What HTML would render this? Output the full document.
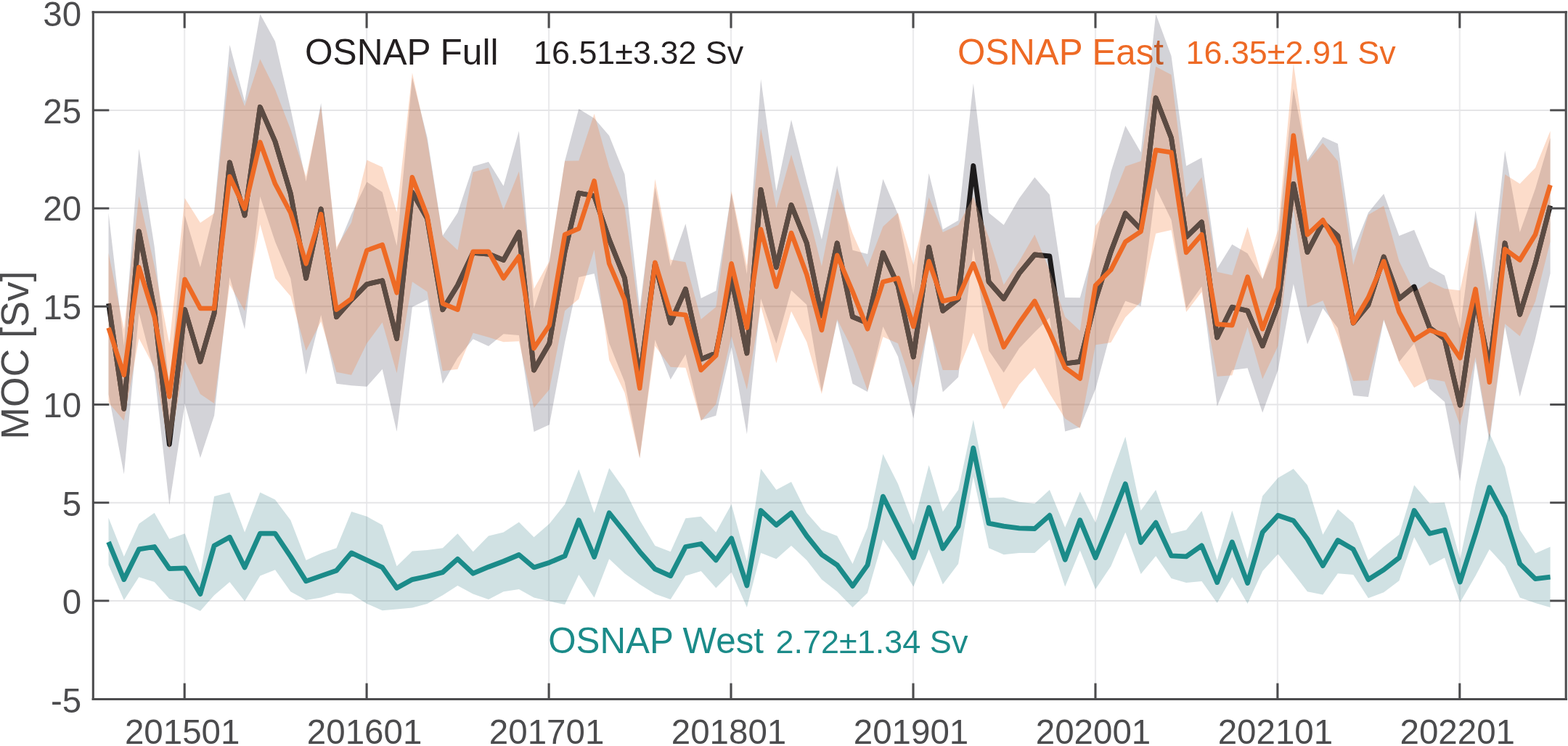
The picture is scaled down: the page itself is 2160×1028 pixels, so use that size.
<!DOCTYPE html>
<html lang="en"><head><meta charset="utf-8"><title>OSNAP MOC time series</title>
<style>html,body{margin:0;padding:0;background:#fff;overflow:hidden}svg{display:block}text{font-family:"Liberation Sans",Arial,Helvetica,sans-serif}</style>
</head><body>
<svg width="2160" height="1028" viewBox="0 0 2160 1028">
<rect x="0" y="0" width="2160" height="1028" fill="#ffffff"/>
<defs><clipPath id="plot"><rect x="128.3" y="16.7" width="2028.8999999999999" height="946.8"/></clipPath><clipPath id="eband"><polygon points="149.5,348.7 170.8,453.7 191.4,270.3 212.7,366.7 233.3,473.7 254.6,273.0 275.9,307.0 295.1,294.0 316.4,91.0 337.1,146.5 358.3,81.5 379.0,123.3 400.3,178.3 421.6,243.3 442.2,147.0 463.5,340.7 484.1,306.7 505.4,220.5 526.7,230.3 546.6,292.3 567.9,100.3 588.5,194.0 609.8,325.3 630.4,344.7 651.7,237.2 673.0,231.2 693.6,289.0 714.9,236.3 735.5,398.0 756.8,359.9 778.1,221.8 797.3,221.5 818.6,156.8 839.2,230.3 860.5,285.3 881.2,438.3 902.4,246.7 923.7,357.7 944.4,361.3 965.7,440.0 986.3,423.0 1007.6,263.3 1028.9,366.7 1048.1,176.7 1069.4,287.0 1090.0,213.0 1111.3,285.3 1131.9,367.0 1153.2,259.5 1174.5,321.7 1195.1,368.3 1216.4,312.3 1237.0,293.3 1258.3,365.0 1279.6,272.0 1298.8,320.0 1320.1,310.0 1340.8,271.3 1362.1,327.0 1382.7,392.6 1404.0,360.0 1425.3,323.3 1445.9,372.5 1467.2,436.7 1487.8,455.7 1509.1,311.3 1530.4,279.7 1550.3,229.3 1571.6,222.0 1592.2,91.7 1613.5,103.0 1634.1,272.0 1655.4,244.3 1676.7,374.7 1697.3,379.3 1718.6,312.7 1739.2,384.3 1760.5,316.7 1781.8,86.7 1801.0,223.3 1822.3,197.0 1842.9,222.0 1864.2,365.0 1884.9,296.0 1906.2,283.5 1927.4,360.0 1948.1,402.3 1969.4,388.0 1990.0,397.7 2011.3,400.3 2032.6,301.3 2051.8,438.7 2073.1,240.3 2093.7,253.3 2115.0,231.3 2135.6,180.5 2135.6,333.0 2115.0,415.3 2093.7,463.3 2073.1,446.3 2051.8,603.0 2032.6,492.0 2011.3,586.3 1990.0,525.7 1969.4,522.0 1948.1,534.3 1927.4,500.0 1906.2,440.0 1884.9,524.0 1864.2,525.0 1842.9,463.3 1822.3,414.3 1801.0,423.3 1781.8,286.7 1760.5,476.7 1739.2,522.3 1718.6,450.7 1697.3,517.3 1676.7,518.7 1655.4,402.3 1634.1,430.0 1613.5,317.0 1592.2,321.7 1571.6,416.0 1550.3,437.3 1530.4,472.0 1509.1,475.3 1487.8,590.2 1467.2,576.7 1445.9,542.5 1425.3,506.7 1404.0,530.0 1382.7,564.0 1362.1,513.0 1340.8,458.8 1320.1,510.0 1298.8,510.0 1279.6,448.0 1258.3,535.0 1237.0,473.3 1216.4,464.3 1195.1,538.3 1174.5,481.7 1153.2,440.1 1131.9,543.0 1111.3,471.3 1090.0,429.0 1069.4,500.5 1048.1,422.0 1028.9,536.7 1007.6,463.3 986.3,557.0 965.7,580.0 944.4,506.7 923.7,505.7 902.4,476.7 881.2,631.7 860.5,541.3 839.2,496.3 818.6,344.3 797.3,412.0 778.1,428.3 756.8,536.7 735.5,562.0 714.9,470.3 693.6,471.3 673.0,464.7 651.7,458.7 630.4,508.7 609.8,511.3 588.5,402.0 567.9,388.3 546.6,514.3 526.7,444.3 505.4,473.0 484.1,516.7 463.5,512.7 442.2,443.0 421.6,483.3 400.3,408.3 379.0,383.3 358.3,309.3 337.1,428.5 316.4,392.3 295.1,556.0 275.9,543.0 254.6,497.0 233.3,619.7 212.7,506.7 191.4,466.3 170.8,579.7 149.5,554.7"/></clipPath></defs>
<g stroke="#ebebed" stroke-width="2.2" fill="none">
<line x1="254.2" y1="16.7" x2="254.2" y2="963.5"/>
<line x1="505.1" y1="16.7" x2="505.1" y2="963.5"/>
<line x1="756.1" y1="16.7" x2="756.1" y2="963.5"/>
<line x1="1007.0" y1="16.7" x2="1007.0" y2="963.5"/>
<line x1="1258.0" y1="16.7" x2="1258.0" y2="963.5"/>
<line x1="1509.0" y1="16.7" x2="1509.0" y2="963.5"/>
<line x1="1759.9" y1="16.7" x2="1759.9" y2="963.5"/>
<line x1="2010.8" y1="16.7" x2="2010.8" y2="963.5"/>
</g>
<g stroke="#e5e5e7" stroke-width="2.0" fill="none">
<line x1="128.3" y1="151.9" x2="2157.2" y2="151.9"/>
<line x1="128.3" y1="287.1" x2="2157.2" y2="287.1"/>
<line x1="128.3" y1="422.3" x2="2157.2" y2="422.3"/>
<line x1="128.3" y1="557.5" x2="2157.2" y2="557.5"/>
<line x1="128.3" y1="692.7" x2="2157.2" y2="692.7"/>
<line x1="128.3" y1="827.9" x2="2157.2" y2="827.9"/>
</g>
<text x="420" y="88.7" font-size="49.6px" fill="#231f20">OSNAP Full</text>
<text x="735" y="88" font-size="44.9px" fill="#231f20">16.51±3.32 Sv</text>
<text x="1319" y="88.7" font-size="49.3px" fill="#ee6a25">OSNAP East</text>
<text x="1633.5" y="88" font-size="44.9px" fill="#ee6a25">16.35±2.91 Sv</text>
<text x="755.2" y="900.3" font-size="49.3px" fill="#1b8b89">OSNAP West</text>
<text x="1068.5" y="899.6" font-size="45px" fill="#1b8b89">2.72±1.34 Sv</text>
<g clip-path="url(#plot)">
<polygon points="149.5,293.3 170.8,476.6 191.4,205.0 212.7,339.7 233.3,533.9 254.6,296.7 275.9,368.3 295.1,290.7 316.4,61.7 337.1,139.7 358.3,19.3 379.0,57.0 400.3,149.7 421.6,250.3 442.2,142.0 463.5,344.7 484.1,295.3 505.4,250.7 526.7,264.7 546.6,338.7 567.9,107.0 588.5,189.0 609.8,324.7 630.4,293.3 651.7,229.3 673.0,223.0 693.6,256.3 714.9,180.5 735.5,425.0 756.8,361.3 778.1,221.7 797.3,150.0 818.6,163.0 839.2,187.0 860.5,240.3 881.2,425.3 902.4,258.3 923.7,367.0 944.4,308.3 965.7,411.0 986.3,400.7 1007.6,266.0 1028.9,377.7 1048.1,109.0 1069.4,263.3 1090.0,165.0 1111.3,250.0 1131.9,330.0 1153.2,228.0 1174.5,344.7 1195.1,350.0 1216.4,246.7 1237.0,295.3 1258.3,406.7 1279.6,238.7 1298.8,316.3 1320.1,303.7 1340.8,115.0 1362.1,293.3 1382.7,310.0 1404.0,273.3 1425.3,244.3 1445.9,268.3 1467.2,410.0 1487.8,410.3 1509.1,335.0 1530.4,236.7 1550.3,173.3 1571.6,210.0 1592.2,19.3 1613.5,77.0 1634.1,228.7 1655.4,217.3 1676.7,370.0 1697.3,336.7 1718.6,349.3 1739.2,384.7 1760.5,330.0 1781.8,122.0 1801.0,220.5 1822.3,188.7 1842.9,198.0 1864.2,345.0 1884.9,293.0 1906.2,267.0 1927.4,325.0 1948.1,316.7 1969.4,367.7 1990.0,379.7 2011.3,453.3 2032.6,290.0 2051.8,401.7 2073.1,207.5 2093.7,319.9 2115.0,259.9 2135.6,189.9 2135.6,376.7 2115.0,466.7 2093.7,546.7 2073.1,450.0 2051.8,609.0 2032.6,498.0 2011.3,663.3 1990.0,553.7 1969.4,535.7 1948.1,473.3 1927.4,498.4 1906.2,441.0 1884.9,547.0 1864.2,545.0 1842.9,452.0 1822.3,424.7 1801.0,474.5 1781.8,391.3 1760.5,510.0 1739.2,568.7 1718.6,507.3 1697.3,509.9 1676.7,560.0 1655.4,394.7 1634.1,424.7 1613.5,303.0 1592.2,259.0 1571.6,422.0 1550.3,414.7 1530.4,456.7 1509.1,536.3 1487.8,588.8 1467.2,594.5 1445.9,437.7 1425.3,457.7 1404.0,480.1 1382.7,513.4 1362.1,483.3 1340.8,341.6 1320.1,519.7 1298.8,540.3 1279.6,442.7 1258.3,576.7 1237.0,491.3 1216.4,449.9 1195.1,540.0 1174.5,528.7 1153.2,442.0 1131.9,540.0 1111.3,420.0 1090.0,400.0 1069.4,473.3 1048.1,411.5 1028.9,598.2 1007.6,478.3 986.3,572.7 965.7,579.0 944.4,488.3 923.7,523.0 902.4,468.3 881.2,631.3 860.5,526.3 839.2,473.0 818.6,377.0 797.3,382.0 778.1,471.7 756.8,585.3 735.5,595.0 714.9,462.0 693.6,460.3 673.0,477.0 651.7,467.3 630.4,493.3 609.8,528.7 588.5,413.0 567.9,423.0 546.6,594.7 526.7,508.7 505.4,532.7 484.1,531.3 463.5,528.7 442.2,434.0 421.6,516.3 400.3,383.7 379.0,333.0 358.3,270.7 337.1,453.7 316.4,381.7 295.1,572.7 275.9,631.0 254.6,556.7 233.3,696.0 212.7,513.7 191.4,431.0 170.8,653.5 149.5,543.3" fill="#23233c" fill-opacity="0.2"/>
<polyline points="149.5,418.3 170.8,563.3 191.4,319.0 212.7,426.7 233.3,612.3 254.6,426.7 275.9,498.3 295.1,431.7 316.4,224.0 337.1,296.7 358.3,147.5 379.0,195.0 400.3,266.7 421.6,383.3 442.2,288.0 463.5,436.7 484.1,413.3 505.4,391.7 526.7,386.7 546.6,466.7 567.9,265.0 588.5,301.0 609.8,426.7 630.4,393.3 651.7,348.3 673.0,350.0 693.6,358.3 714.9,320.0 735.5,510.0 756.8,473.3 778.1,346.7 797.3,266.0 818.6,270.0 839.2,330.0 860.5,383.3 881.2,522.5 902.4,363.3 923.7,445.0 944.4,398.3 965.7,495.0 986.3,486.7 1007.6,383.3 1028.9,486.7 1048.1,261.5 1069.4,368.3 1090.0,282.5 1111.3,335.0 1131.9,435.0 1153.2,335.0 1174.5,436.7 1195.1,445.0 1216.4,348.3 1237.0,393.3 1258.3,491.7 1279.6,340.7 1298.8,428.3 1320.1,411.7 1340.8,228.3 1362.1,388.3 1382.7,411.7 1404.0,376.7 1425.3,351.0 1445.9,353.0 1467.2,501.0 1487.8,498.3 1509.1,413.3 1530.4,346.7 1550.3,294.0 1571.6,316.0 1592.2,135.0 1613.5,190.0 1634.1,326.7 1655.4,306.0 1676.7,465.0 1697.3,423.3 1718.6,428.3 1739.2,476.7 1760.5,420.0 1781.8,253.3 1801.0,347.5 1822.3,306.7 1842.9,325.0 1864.2,445.0 1884.9,420.0 1906.2,354.0 1927.4,411.7 1948.1,395.0 1969.4,451.7 1990.0,466.7 2011.3,558.3 2032.6,411.7 2051.8,506.7 2073.1,335.0 2093.7,433.3 2115.0,363.3 2135.6,283.3" fill="none" stroke="#1d1b1c" stroke-width="6.8" stroke-linejoin="round" stroke-linecap="butt"/>
<polygon points="149.5,348.7 170.8,453.7 191.4,270.3 212.7,366.7 233.3,473.7 254.6,273.0 275.9,307.0 295.1,294.0 316.4,91.0 337.1,146.5 358.3,81.5 379.0,123.3 400.3,178.3 421.6,243.3 442.2,147.0 463.5,340.7 484.1,306.7 505.4,220.5 526.7,230.3 546.6,292.3 567.9,100.3 588.5,194.0 609.8,325.3 630.4,344.7 651.7,237.2 673.0,231.2 693.6,289.0 714.9,236.3 735.5,398.0 756.8,359.9 778.1,221.8 797.3,221.5 818.6,156.8 839.2,230.3 860.5,285.3 881.2,438.3 902.4,246.7 923.7,357.7 944.4,361.3 965.7,440.0 986.3,423.0 1007.6,263.3 1028.9,366.7 1048.1,176.7 1069.4,287.0 1090.0,213.0 1111.3,285.3 1131.9,367.0 1153.2,259.5 1174.5,321.7 1195.1,368.3 1216.4,312.3 1237.0,293.3 1258.3,365.0 1279.6,272.0 1298.8,320.0 1320.1,310.0 1340.8,271.3 1362.1,327.0 1382.7,392.6 1404.0,360.0 1425.3,323.3 1445.9,372.5 1467.2,436.7 1487.8,455.7 1509.1,311.3 1530.4,279.7 1550.3,229.3 1571.6,222.0 1592.2,91.7 1613.5,103.0 1634.1,272.0 1655.4,244.3 1676.7,374.7 1697.3,379.3 1718.6,312.7 1739.2,384.3 1760.5,316.7 1781.8,86.7 1801.0,223.3 1822.3,197.0 1842.9,222.0 1864.2,365.0 1884.9,296.0 1906.2,283.5 1927.4,360.0 1948.1,402.3 1969.4,388.0 1990.0,397.7 2011.3,400.3 2032.6,301.3 2051.8,438.7 2073.1,240.3 2093.7,253.3 2115.0,231.3 2135.6,180.5 2135.6,333.0 2115.0,415.3 2093.7,463.3 2073.1,446.3 2051.8,603.0 2032.6,492.0 2011.3,586.3 1990.0,525.7 1969.4,522.0 1948.1,534.3 1927.4,500.0 1906.2,440.0 1884.9,524.0 1864.2,525.0 1842.9,463.3 1822.3,414.3 1801.0,423.3 1781.8,286.7 1760.5,476.7 1739.2,522.3 1718.6,450.7 1697.3,517.3 1676.7,518.7 1655.4,402.3 1634.1,430.0 1613.5,317.0 1592.2,321.7 1571.6,416.0 1550.3,437.3 1530.4,472.0 1509.1,475.3 1487.8,590.2 1467.2,576.7 1445.9,542.5 1425.3,506.7 1404.0,530.0 1382.7,564.0 1362.1,513.0 1340.8,458.8 1320.1,510.0 1298.8,510.0 1279.6,448.0 1258.3,535.0 1237.0,473.3 1216.4,464.3 1195.1,538.3 1174.5,481.7 1153.2,440.1 1131.9,543.0 1111.3,471.3 1090.0,429.0 1069.4,500.5 1048.1,422.0 1028.9,536.7 1007.6,463.3 986.3,557.0 965.7,580.0 944.4,506.7 923.7,505.7 902.4,476.7 881.2,631.7 860.5,541.3 839.2,496.3 818.6,344.3 797.3,412.0 778.1,428.3 756.8,536.7 735.5,562.0 714.9,470.3 693.6,471.3 673.0,464.7 651.7,458.7 630.4,508.7 609.8,511.3 588.5,402.0 567.9,388.3 546.6,514.3 526.7,444.3 505.4,473.0 484.1,516.7 463.5,512.7 442.2,443.0 421.6,483.3 400.3,408.3 379.0,383.3 358.3,309.3 337.1,428.5 316.4,392.3 295.1,556.0 275.9,543.0 254.6,497.0 233.3,619.7 212.7,506.7 191.4,466.3 170.8,579.7 149.5,554.7" fill="#f38241" fill-opacity="0.28"/>
<g clip-path="url(#eband)"><polyline points="149.5,418.3 170.8,563.3 191.4,319.0 212.7,426.7 233.3,612.3 254.6,426.7 275.9,498.3 295.1,431.7 316.4,224.0 337.1,296.7 358.3,147.5 379.0,195.0 400.3,266.7 421.6,383.3 442.2,288.0 463.5,436.7 484.1,413.3 505.4,391.7 526.7,386.7 546.6,466.7 567.9,265.0 588.5,301.0 609.8,426.7 630.4,393.3 651.7,348.3 673.0,350.0 693.6,358.3 714.9,320.0 735.5,510.0 756.8,473.3 778.1,346.7 797.3,266.0 818.6,270.0 839.2,330.0 860.5,383.3 881.2,522.5 902.4,363.3 923.7,445.0 944.4,398.3 965.7,495.0 986.3,486.7 1007.6,383.3 1028.9,486.7 1048.1,261.5 1069.4,368.3 1090.0,282.5 1111.3,335.0 1131.9,435.0 1153.2,335.0 1174.5,436.7 1195.1,445.0 1216.4,348.3 1237.0,393.3 1258.3,491.7 1279.6,340.7 1298.8,428.3 1320.1,411.7 1340.8,228.3 1362.1,388.3 1382.7,411.7 1404.0,376.7 1425.3,351.0 1445.9,353.0 1467.2,501.0 1487.8,498.3 1509.1,413.3 1530.4,346.7 1550.3,294.0 1571.6,316.0 1592.2,135.0 1613.5,190.0 1634.1,326.7 1655.4,306.0 1676.7,465.0 1697.3,423.3 1718.6,428.3 1739.2,476.7 1760.5,420.0 1781.8,253.3 1801.0,347.5 1822.3,306.7 1842.9,325.0 1864.2,445.0 1884.9,420.0 1906.2,354.0 1927.4,411.7 1948.1,395.0 1969.4,451.7 1990.0,466.7 2011.3,558.3 2032.6,411.7 2051.8,506.7 2073.1,335.0 2093.7,433.3 2115.0,363.3 2135.6,283.3" fill="none" stroke="#5b4b43" stroke-width="6.8" stroke-linejoin="round" stroke-linecap="butt"/></g>
<polyline points="149.5,451.7 170.8,516.7 191.4,368.3 212.7,436.7 233.3,546.7 254.6,385.0 275.9,425.0 295.1,425.0 316.4,243.3 337.1,287.5 358.3,195.8 379.0,253.3 400.3,293.3 421.6,363.3 442.2,295.0 463.5,426.7 484.1,411.7 505.4,345.0 526.7,337.3 546.6,403.3 567.9,244.3 588.5,298.0 609.8,418.3 630.4,426.7 651.7,346.7 673.0,346.7 693.6,383.3 714.9,353.3 735.5,480.0 756.8,448.3 778.1,323.3 797.3,315.0 818.6,249.3 839.2,363.3 860.5,413.3 881.2,535.0 902.4,361.7 923.7,431.7 944.4,434.0 965.7,510.0 986.3,490.0 1007.6,363.3 1028.9,451.7 1048.1,316.0 1069.4,395.0 1090.0,321.0 1111.3,378.3 1131.9,455.0 1153.2,351.7 1174.5,401.7 1195.1,453.3 1216.4,388.3 1237.0,383.3 1258.3,450.0 1279.6,360.0 1298.8,415.0 1320.1,410.0 1340.8,363.3 1362.1,420.0 1382.7,478.3 1404.0,445.0 1425.3,415.0 1445.9,457.5 1467.2,506.7 1487.8,521.7 1509.1,393.3 1530.4,371.7 1550.3,333.3 1571.6,319.0 1592.2,206.7 1613.5,210.0 1634.1,348.0 1655.4,323.3 1676.7,446.7 1697.3,448.3 1718.6,381.7 1739.2,453.3 1760.5,396.7 1781.8,186.7 1801.0,323.3 1822.3,303.3 1842.9,338.3 1864.2,445.0 1884.9,410.0 1906.2,360.0 1927.4,430.0 1948.1,468.3 1969.4,455.0 1990.0,461.7 2011.3,493.3 2032.6,398.3 2051.8,526.7 2073.1,343.3 2093.7,358.3 2115.0,323.3 2135.6,255.0" fill="none" stroke="#ee6a25" stroke-width="6.5" stroke-linejoin="round" stroke-linecap="butt"/>
<polygon points="149.5,713.5 170.8,766.9 191.4,721.8 212.7,706.8 233.3,742.8 254.6,735.2 275.9,790.2 295.1,684.1 316.4,678.5 337.1,733.5 358.3,678.5 379.0,688.5 400.3,716.8 421.6,771.9 442.2,762.5 463.5,755.2 484.1,705.1 505.4,711.8 526.7,723.5 546.6,780.2 567.9,759.5 588.5,757.9 609.8,755.2 630.4,735.2 651.7,760.2 673.0,738.5 693.6,733.5 714.9,719.5 735.5,740.2 756.8,721.8 778.1,695.1 797.3,646.8 818.6,706.8 839.2,645.1 860.5,675.1 881.2,716.8 902.4,751.9 923.7,760.2 944.4,714.2 965.7,711.8 986.3,733.5 1007.6,695.1 1028.9,773.5 1048.1,646.1 1069.4,675.1 1090.0,664.1 1111.3,706.8 1131.9,730.2 1153.2,738.5 1174.5,776.9 1195.1,726.8 1216.4,625.7 1237.0,666.8 1258.3,723.5 1279.6,641.1 1298.8,705.1 1320.1,675.1 1340.8,578.4 1362.1,686.1 1382.7,685.5 1404.0,691.8 1425.3,694.1 1445.9,675.1 1467.2,726.8 1487.8,677.5 1509.1,720.2 1530.4,656.8 1550.3,601.7 1571.6,703.5 1592.2,675.1 1613.5,735.2 1634.1,730.2 1655.4,704.1 1676.7,771.9 1697.3,703.5 1718.6,770.2 1739.2,683.5 1760.5,658.4 1781.8,646.1 1801.0,668.4 1822.3,736.8 1842.9,701.8 1864.2,720.2 1884.9,771.9 1906.2,753.5 1927.4,736.8 1948.1,668.4 1969.4,693.5 1990.0,692.5 2011.3,770.2 2032.6,670.1 2051.8,596.7 2073.1,643.4 2093.7,730.2 2115.0,762.5 2135.6,753.5 2135.6,836.9 2115.0,830.9 2093.7,823.6 2073.1,780.2 2051.8,756.9 2032.6,793.6 2011.3,830.3 1990.0,768.5 1969.4,779.6 1948.1,740.2 1927.4,800.2 1906.2,816.3 1884.9,824.3 1864.2,791.9 1842.9,790.2 1822.3,819.6 1801.0,815.3 1781.8,790.2 1760.5,763.5 1739.2,786.9 1718.6,831.9 1697.3,795.2 1676.7,830.9 1655.4,800.9 1634.1,802.9 1613.5,796.9 1592.2,766.2 1571.6,790.9 1550.3,733.5 1530.4,780.2 1509.1,811.9 1487.8,758.5 1467.2,808.6 1445.9,743.5 1425.3,761.9 1404.0,761.9 1382.7,764.2 1362.1,755.2 1340.8,656.8 1320.1,776.9 1298.8,805.2 1279.6,756.9 1258.3,808.6 1237.0,773.5 1216.4,743.5 1195.1,816.9 1174.5,836.9 1153.2,815.3 1131.9,798.6 1111.3,771.9 1090.0,751.9 1069.4,770.2 1048.1,761.9 1028.9,836.9 1007.6,788.6 986.3,810.3 965.7,786.9 944.4,793.6 923.7,825.9 902.4,818.6 881.2,805.2 860.5,790.2 839.2,770.2 818.6,823.6 797.3,791.9 778.1,832.9 756.8,828.6 735.5,823.6 714.9,811.9 693.6,815.3 673.0,825.9 651.7,818.6 630.4,806.9 609.8,820.3 588.5,831.9 567.9,837.6 546.6,839.6 526.7,841.3 505.4,831.9 484.1,818.6 463.5,816.9 442.2,823.6 421.6,826.9 400.3,815.3 379.0,785.2 358.3,793.6 337.1,828.6 316.4,801.9 295.1,820.3 275.9,841.9 254.6,831.9 233.3,825.3 212.7,801.9 191.4,795.2 170.8,826.9 149.5,778.6" fill="#146973" fill-opacity="0.2"/>
<polyline points="149.5,746.9 170.8,798.6 191.4,756.9 212.7,753.5 233.3,783.6 254.6,782.9 275.9,818.6 295.1,751.9 316.4,740.2 337.1,781.9 358.3,735.2 379.0,735.2 400.3,766.9 421.6,800.9 442.2,793.6 463.5,786.2 484.1,761.9 505.4,771.9 526.7,781.9 546.6,810.3 567.9,798.6 588.5,794.2 609.8,788.6 630.4,770.2 651.7,790.2 673.0,781.2 693.6,773.5 714.9,764.5 735.5,781.9 756.8,775.2 778.1,766.2 797.3,716.8 818.6,767.5 839.2,706.8 860.5,733.5 881.2,760.2 902.4,784.2 923.7,793.6 944.4,753.5 965.7,749.5 986.3,771.9 1007.6,741.8 1028.9,806.9 1048.1,703.5 1069.4,723.5 1090.0,706.8 1111.3,738.5 1131.9,764.2 1153.2,778.6 1174.5,807.6 1195.1,778.6 1216.4,684.1 1237.0,725.2 1258.3,768.5 1279.6,699.5 1298.8,755.9 1320.1,725.2 1340.8,617.4 1362.1,721.2 1382.7,725.2 1404.0,727.8 1425.3,728.5 1445.9,710.2 1467.2,771.2 1487.8,716.8 1509.1,768.5 1530.4,716.8 1550.3,666.8 1571.6,747.5 1592.2,720.2 1613.5,765.9 1634.1,766.9 1655.4,751.9 1676.7,802.6 1697.3,746.9 1718.6,803.6 1739.2,733.5 1760.5,710.2 1781.8,717.5 1801.0,742.8 1822.3,779.6 1842.9,744.5 1864.2,756.9 1884.9,798.6 1906.2,785.2 1927.4,768.5 1948.1,703.5 1969.4,735.2 1990.0,730.2 2011.3,801.9 2032.6,735.2 2051.8,671.8 2073.1,711.8 2093.7,776.9 2115.0,797.6 2135.6,795.2" fill="none" stroke="#1b8b89" stroke-width="6.8" stroke-linejoin="round" stroke-linecap="butt"/>
</g>
<g stroke="#4c4c4e" stroke-width="3.1" fill="none" stroke-linecap="butt">
<line x1="128.3" y1="15.25" x2="128.3" y2="964.95"/>
<line x1="2157.2" y1="15.25" x2="2157.2" y2="964.95"/>
<line x1="254.2" y1="963.5" x2="254.2" y2="941.5"/>
<line x1="254.2" y1="16.7" x2="254.2" y2="38.7"/>
<line x1="505.1" y1="963.5" x2="505.1" y2="941.5"/>
<line x1="505.1" y1="16.7" x2="505.1" y2="38.7"/>
<line x1="756.1" y1="963.5" x2="756.1" y2="941.5"/>
<line x1="756.1" y1="16.7" x2="756.1" y2="38.7"/>
<line x1="1007.0" y1="963.5" x2="1007.0" y2="941.5"/>
<line x1="1007.0" y1="16.7" x2="1007.0" y2="38.7"/>
<line x1="1258.0" y1="963.5" x2="1258.0" y2="941.5"/>
<line x1="1258.0" y1="16.7" x2="1258.0" y2="38.7"/>
<line x1="1509.0" y1="963.5" x2="1509.0" y2="941.5"/>
<line x1="1509.0" y1="16.7" x2="1509.0" y2="38.7"/>
<line x1="1759.9" y1="963.5" x2="1759.9" y2="941.5"/>
<line x1="1759.9" y1="16.7" x2="1759.9" y2="38.7"/>
<line x1="2010.8" y1="963.5" x2="2010.8" y2="941.5"/>
<line x1="2010.8" y1="16.7" x2="2010.8" y2="38.7"/>
</g>
<g stroke="#4c4c4e" stroke-width="2.9" fill="none" stroke-linecap="butt">
<line x1="126.65" y1="16.7" x2="2158.85" y2="16.7"/>
<line x1="126.65" y1="963.5" x2="2158.85" y2="963.5"/>
<line x1="128.3" y1="151.9" x2="150.3" y2="151.9"/>
<line x1="2157.2" y1="151.9" x2="2135.2" y2="151.9"/>
<line x1="128.3" y1="287.1" x2="150.3" y2="287.1"/>
<line x1="2157.2" y1="287.1" x2="2135.2" y2="287.1"/>
<line x1="128.3" y1="422.3" x2="150.3" y2="422.3"/>
<line x1="2157.2" y1="422.3" x2="2135.2" y2="422.3"/>
<line x1="128.3" y1="557.5" x2="150.3" y2="557.5"/>
<line x1="2157.2" y1="557.5" x2="2135.2" y2="557.5"/>
<line x1="128.3" y1="692.7" x2="150.3" y2="692.7"/>
<line x1="2157.2" y1="692.7" x2="2135.2" y2="692.7"/>
<line x1="128.3" y1="827.9" x2="150.3" y2="827.9"/>
<line x1="2157.2" y1="827.9" x2="2135.2" y2="827.9"/>
</g>
<g fill="#4c4c4e" font-size="47.5px">
<text x="112.2" y="35.5" text-anchor="end">30</text>
<text x="112.2" y="169.5" text-anchor="end">25</text>
<text x="112.2" y="304.4" text-anchor="end">20</text>
<text x="112.2" y="439.7" text-anchor="end">15</text>
<text x="112.2" y="574.9" text-anchor="end">10</text>
<text x="112.2" y="711.0" text-anchor="end">5</text>
<text x="112.2" y="845.9" text-anchor="end">0</text>
<text x="112.2" y="982.4" text-anchor="end">-5</text>
<text x="251.2" y="1024.5" text-anchor="middle">201501</text>
<text x="502.1" y="1024.5" text-anchor="middle">201601</text>
<text x="753.1" y="1024.5" text-anchor="middle">201701</text>
<text x="1004.0" y="1024.5" text-anchor="middle">201801</text>
<text x="1255.0" y="1024.5" text-anchor="middle">201901</text>
<text x="1506.0" y="1024.5" text-anchor="middle">202001</text>
<text x="1756.9" y="1024.5" text-anchor="middle">202101</text>
<text x="2007.8" y="1024.5" text-anchor="middle">202201</text>
</g>
<text transform="translate(38.7,489.5) rotate(-90)" text-anchor="middle" font-size="53.6px" fill="#4c4c4e">MOC [Sv]</text>
</svg></body></html>
